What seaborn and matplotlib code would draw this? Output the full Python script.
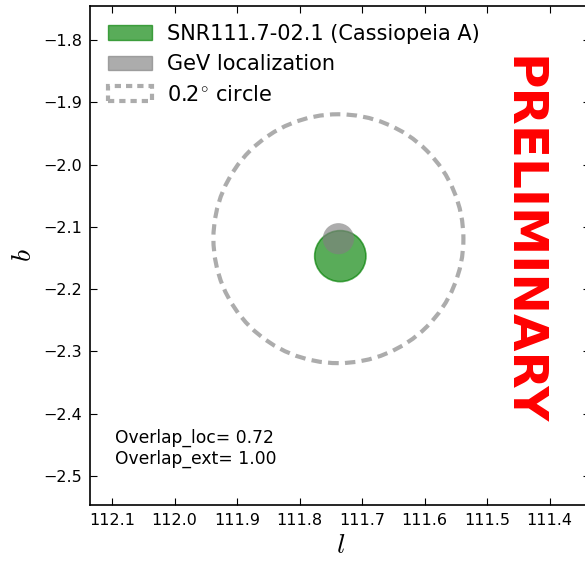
import matplotlib
matplotlib.use("Agg")
import matplotlib.pyplot as plt
from matplotlib.patches import Circle, Patch
import seaborn as sns

# Data
src_name = "SNR111.7-02.1 (Cassiopeia A)"
src_l = [111.735]
src_b = [-2.147]
src_r = [0.041]
gev_l = [111.738]
gev_b = [-2.119]
gev_r = [0.025]
circ_r = [0.2]
xticks = [112.1, 112.0, 111.9, 111.8, 111.7, 111.6, 111.5, 111.4]
yticks = [-1.8, -1.9, -2.0, -2.1, -2.2, -2.3, -2.4, -2.5]
overlap_loc = 0.72
overlap_ext = 1.00

sns.set_style("ticks")
plt.rcParams['font.family'] = ['DejaVu Sans']
plt.rcParams['mathtext.fontset'] = 'cm'
plt.rcParams['text.color'] = 'black'
plt.rcParams['axes.labelcolor'] = 'black'
plt.rcParams['xtick.color'] = 'black'
plt.rcParams['ytick.color'] = 'black'

fig = plt.figure(figsize=(5.85, 5.62), dpi=100)
ax = fig.add_axes([90.3/585, 57/562, 500/585, 499/562])

for l, b, r in zip(src_l, src_b, src_r):
    ax.add_patch(Circle((l, b), r, facecolor='green', edgecolor='green', alpha=0.65, lw=1.2, zorder=2))
for l, b, r in zip(gev_l, gev_b, gev_r):
    ax.add_patch(Circle((l, b), r, facecolor='gray', edgecolor='none', alpha=0.65, zorder=3))
    ax.add_patch(Circle((l, b), circ_r[0], fill=False, edgecolor='gray', alpha=0.65, lw=3, ls=(0, (2.5, 1.5)), zorder=2))

ax.set_xlim(112.135, 111.335)
ax.set_ylim(-2.547, -1.745)
ax.set_xticks(xticks)
ax.set_yticks(yticks)
ax.set_xticklabels([f"{v:.1f}" for v in xticks])
ax.set_yticklabels([f"\u2212{abs(v):.1f}" for v in yticks])
ax.tick_params(direction='in', top=True, right=True, length=5, width=0.8, labelsize=11.5, pad=6,
               color='black', labelcolor='black')
for s in ax.spines.values():
    s.set_linewidth(1.2)
    s.set_color('black')

ax.set_xlabel("$l$", fontsize=20, labelpad=2)
ax.set_ylabel("$b$", fontsize=20, labelpad=4)

handles = [
    Patch(facecolor='green', edgecolor='green', alpha=0.65, label=src_name),
    Patch(facecolor='gray', edgecolor='gray', alpha=0.65, label='GeV localization'),
    Patch(fill=False, edgecolor='gray', alpha=0.65, lw=3, ls=(0, (1.5, 1.2)), label='0.2$^{\\circ}$ circle'),
]
leg = ax.legend(handles=handles, loc='upper left', frameon=False, fontsize=15,
                bbox_to_anchor=(-0.004, 1.004), handlelength=2.1, handleheight=0.7,
                handletextpad=0.75, borderaxespad=0.55, labelspacing=0.5)
for t in leg.get_texts():
    t.set_color('black')

ax.text(0.863, 0.53, "PRELIMINARY", transform=ax.transAxes, rotation=-90, color='red',
        fontsize=34.8, fontweight='bold', ha='center', va='center')

ax.text(0.05, 0.152, f"Overlap_loc= {overlap_loc:.2f}\nOverlap_ext= {overlap_ext:.2f}",
        transform=ax.transAxes, fontsize=12.3, va='top', ha='left', linespacing=1.15, color='black')

fig.savefig("out.png", dpi=100)
